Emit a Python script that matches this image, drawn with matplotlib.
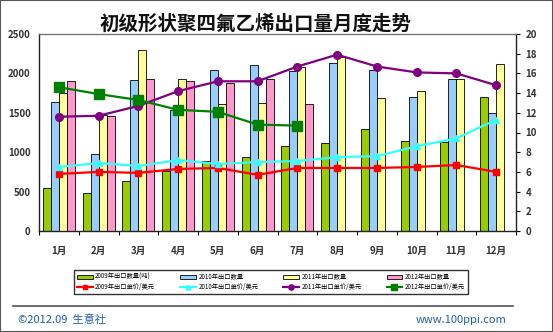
import matplotlib
matplotlib.use("Agg")
import matplotlib.pyplot as plt
from matplotlib.lines import Line2D
from matplotlib.patches import Rectangle
import numpy as np

plt.rcParams['font.family'] = ['Noto Sans CJK SC', 'DejaVu Sans']

months = ["1月", "2月", "3月", "4月", "5月", "6月", "7月", "8月", "9月", "10月", "11月", "12月"]

# export volume (tonnes)
vol_2009 = [540, 480, 635, 765, 890, 945, 1080, 1115, 1300, 1140, 1130, 1705]
vol_2010 = [1640, 975, 1915, 1535, 2045, 2105, 2035, 2135, 2045, 1705, 1925, 1500]
vol_2011 = [1745, 1470, 2295, 1925, 1610, 1630, 2085, 2210, 1685, 1780, 1935, 2120]
vol_2012 = [1905, 1460, 1925, 1905, 1875, 1925, 1610]

# average export price (USD / kg)
price_2009 = [5.8, 6.0, 5.9, 6.3, 6.4, 5.7, 6.4, 6.4, 6.4, 6.5, 6.7, 6.0]
price_2010 = [6.5, 6.9, 6.6, 7.2, 6.8, 7.0, 7.1, 7.5, 7.6, 8.6, 9.4, 11.3]
price_2011 = [11.6, 11.7, 12.7, 14.2, 15.2, 15.2, 16.7, 17.9, 16.7, 16.1, 16.0, 14.8]
price_2012 = [14.6, 13.9, 13.3, 12.3, 12.1, 10.8, 10.7]

bar_labels = ["2009年出口数量(吨)", "2010年出口数量", "2011年出口数量", "2012年出口数量"]
line_labels = ["2009年出口单价/美元", "2010年出口单价/美元", "2011年出口单价/美元", "2012年出口单价/美元"]

bar_colors = ["#99cc00", "#99ccff", "#ffff99", "#ff99cc"]
line_colors = ["#ff0000", "#33ffff", "#800080", "#008000"]
line_markers = ["s", "^", "o", "s"]
marker_sizes = [4.5, 5, 5.5, 6.5]

fig = plt.figure(figsize=(5.53, 3.32), dpi=100)
fig.patch.set_facecolor("white")

ax = fig.add_axes([39 / 553, 1 - 231 / 332, (516 - 39) / 553, (231 - 34) / 332])
ax2 = ax.twinx()
ax.set_zorder(1)
ax2.set_zorder(2)
ax.patch.set_visible(True)
ax2.patch.set_visible(False)

x = np.arange(len(months))
w = 0.2
vols = [vol_2009, vol_2010, vol_2011, vol_2012]
bar_handles = []
for i, (v, c) in enumerate(zip(vols, bar_colors)):
    xs = x[:len(v)] + (i - 1.5) * w
    b = ax.bar(xs, v, width=w, color=c, edgecolor="black", linewidth=0.6, label=bar_labels[i])
    bar_handles.append(b)

prices = [price_2009, price_2010, price_2011, price_2012]
line_handles = []
for i, (p, c) in enumerate(zip(prices, line_colors)):
    ln, = ax2.plot(x[:len(p)], p, color=c, marker=line_markers[i], markersize=marker_sizes[i],
                   linewidth=1.6, label=line_labels[i])
    line_handles.append(ln)

ax.set_xlim(-0.5, 11.5)
ax.set_ylim(0, 2500)
ax2.set_ylim(0, 20)
ax.set_yticks(np.arange(0, 2501, 500))
ax2.set_yticks(np.arange(0, 21, 2))
ax.set_xticks(x)
ax.set_xticklabels(months)
ax.set_xticks(np.arange(-0.5, 12, 1), minor=True)

for lab in ax.get_yticklabels() + ax2.get_yticklabels() + ax.get_xticklabels():
    lab.set_fontsize(7)
    lab.set_fontweight("bold")
    lab.set_color("#333333")

ax.tick_params(axis="x", which="major", length=0, pad=11)
ax.tick_params(axis="x", which="minor", length=3, width=0.8)
ax.tick_params(axis="y", length=0, pad=6)
ax2.tick_params(axis="y", length=3, width=0.8, pad=4)

for sp in ["left", "bottom", "right"]:
    ax2.spines[sp].set_color("#222222")
    ax2.spines[sp].set_linewidth(1.0)
ax2.spines["top"].set_color("#777777")
ax2.spines["top"].set_linewidth(1.0)
for sp in ax.spines.values():
    sp.set_visible(False)

fig.text(0.462, 1 - 24 / 332, "初级形状聚四氟乙烯出口量月度走势", ha="center", va="center",
         fontsize=14, fontweight="bold", color="#111111")

handles = []
labels = []
for b, l, bl, ll in zip(bar_handles, line_handles, bar_labels, line_labels):
    handles += [b, l]
    labels += [bl, ll]
leg = fig.legend(handles, labels, ncol=4, loc="center",
                 bbox_to_anchor=(271 / 553, 1 - 282 / 332), fontsize=4.5,
                 frameon=True, fancybox=False, edgecolor="black",
                 handlelength=2.5, handleheight=0.8, columnspacing=4.0,
                 labelspacing=0.3, borderpad=0.5, handletextpad=0.4,
                 markerscale=0.7)
leg.get_frame().set_linewidth(1.0)

fig.add_artist(Line2D([13 / 553, 513 / 553], [1 - 306 / 332, 1 - 306 / 332],
                      color="#555555", linewidth=1.2, transform=fig.transFigure))
fig.text(18 / 553, 1 - 320 / 332, "©2012.09  生意社", ha="left", va="center",
         fontsize=8, color="#1f5fa8")
fig.text(507 / 553, 1 - 320 / 332, "www.100ppi.com", ha="right", va="center",
         fontsize=8, color="#1f5fa8")

fig.add_artist(Rectangle((0, 0), 1, 1, transform=fig.transFigure, fill=False,
                         edgecolor="#555555", linewidth=1.5))

fig.savefig("out.png", dpi=100, facecolor="white")
